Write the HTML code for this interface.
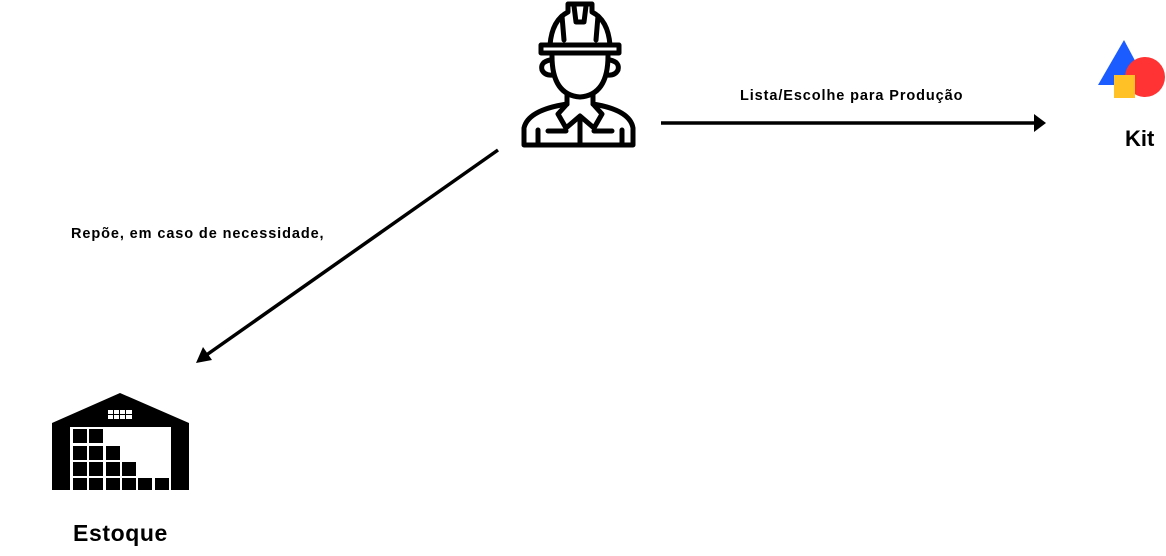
<!DOCTYPE html>
<html><head><meta charset="utf-8"><style>
body{margin:0;background:#fff;width:1166px;height:556px;overflow:hidden;font-family:"Liberation Sans",sans-serif}
.t{position:absolute;font-weight:bold;color:#000;white-space:nowrap}
</style></head><body>
<svg width="1166" height="556" style="position:absolute;left:0;top:0">
<line x1="661" y1="123" x2="1038" y2="123" stroke="#000" stroke-width="3.5"/>
<polygon points="1046,123 1034,114 1034,132" fill="#000"/>
<line x1="498" y1="150" x2="205" y2="356" stroke="#000" stroke-width="3.5"/>
<polygon points="196,363 203,347 212,360" fill="#000"/>
<g fill="none" stroke="#000" stroke-width="5" stroke-linejoin="round" stroke-linecap="round">
<path d="M550,45 Q552,20 568,12 L568,4 L592,4 L592,12 Q608,20 610,45"/>
<path d="M574,6 L576,22 L584,22 L586,6"/>
<path d="M562,16 L564,40 M598,16 L596,40"/>
<path d="M541,45 L619,45 L619,53 L541,53 Z"/>
<path d="M552,56 Q552,95 580,97 Q608,95 608,56"/>
<path d="M550,60 Q540,62 542,70 Q545,76 553,75 M610,60 Q620,62 618,70 Q615,76 607,75"/>
<path d="M567,95 L567,104 Q528,110 524,128 L524,145 L633,145 L633,128 Q630,110 593,104 L593,95"/>
<path d="M567,104 L558,114 L566,128 L580,116 L594,128 L602,114 L593,104"/>
<path d="M580,118 L580,145"/>
<path d="M538,130 L538,145 M622,130 L622,145"/>
<path d="M548,131 L566,131 M594,131 L612,131"/>
</g>
<polygon points="52,423 120,393 189,423 189,490 171,490 171,427 70,427 70,490 52,490" fill="#000"/>
<g fill="#fff"><rect x="108" y="410" width="5" height="4"/><rect x="114" y="410" width="5" height="4"/><rect x="120" y="410" width="5" height="4"/><rect x="126" y="410" width="6" height="4"/>
<rect x="108" y="415" width="5" height="4"/><rect x="114" y="415" width="5" height="4"/><rect x="120" y="415" width="5" height="4"/><rect x="126" y="415" width="6" height="4"/></g>
<g fill="#000">
<rect x="73" y="429" width="14" height="14"/><rect x="89" y="429" width="14" height="14"/>
<rect x="73" y="446" width="14" height="14"/><rect x="89" y="446" width="14" height="14"/><rect x="106" y="446" width="14" height="14"/>
<rect x="73" y="462" width="14" height="14"/><rect x="89" y="462" width="14" height="14"/><rect x="106" y="462" width="14" height="14"/><rect x="122" y="462" width="14" height="14"/>
<rect x="73" y="478" width="14" height="12"/><rect x="89" y="478" width="14" height="12"/><rect x="106" y="478" width="14" height="12"/><rect x="122" y="478" width="14" height="12"/><rect x="138" y="478" width="14" height="12"/><rect x="155" y="478" width="14" height="12"/>
</g>
<polygon points="1124,40 1148,85 1098,85" fill="#1a5cff"/>
<circle cx="1145" cy="77" r="20" fill="#ff3333"/>
<rect x="1114" y="75" width="21" height="23" fill="#ffc125"/>
</svg>
<div class="t" style="left:740px;top:88px;font-size:14.5px;letter-spacing:0.9px">Lista/Escolhe para Produção</div>
<div class="t" style="left:71px;top:226px;font-size:14.5px;letter-spacing:0.9px">Repõe, em caso de necessidade,</div>
<div class="t" style="left:1125px;top:126px;font-size:22px">Kit</div>
<div class="t" style="left:73px;top:520px;font-size:23px;letter-spacing:0.6px">Estoque</div>
</body></html>
